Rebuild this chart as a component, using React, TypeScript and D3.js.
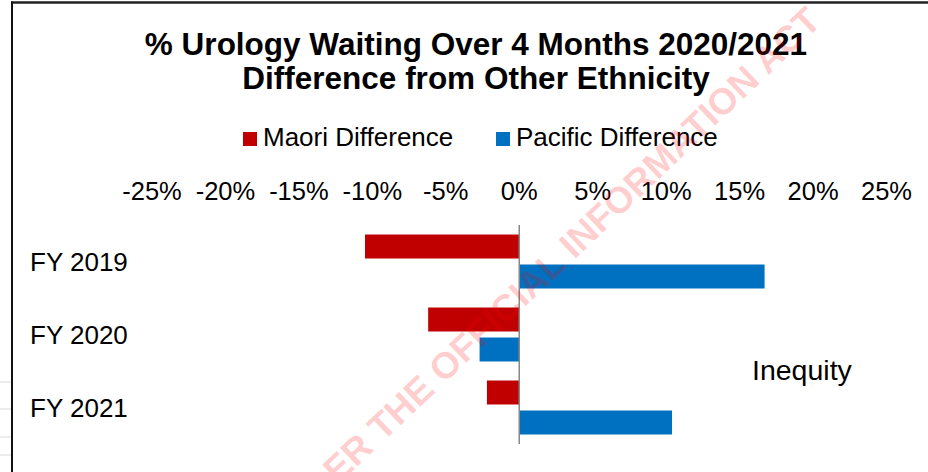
import React from "react";
import * as d3 from "d3";

const categories = ["FY 2019", "FY 2020", "FY 2021"];
const seriesNames = ["Maori Difference", "Pacific Difference"];
const maoriValues = [-0.105, -0.062, -0.022];
const pacificValues = [0.167, -0.027, 0.104];
const seriesColors = ["#C00000", "#0070C0"];
const tickValues = [-0.25, -0.2, -0.15, -0.1, -0.05, 0, 0.05, 0.1, 0.15, 0.2, 0.25];
const titleLines = ["% Urology Waiting Over 4 Months 2020/2021", "Difference from Other Ethnicity"];
const annotation = "Inequity";
const watermarkHead = "RELEASED UND";
const watermarkTail = "ER THE OFFICIAL INFORMATION ACT";

const W = 928;
const H = 472;
const FONT = "'Liberation Sans', Arial, sans-serif";

export default function App() {
  const x = d3.scaleLinear().domain([-0.25, 0.25]).range([152, 886.5]);
  const y = d3.scaleBand<string>().domain(categories).range([225, 444]).paddingInner(0).paddingOuter(0);
  const sub = d3
    .scaleBand<string>()
    .domain(seriesNames)
    .range([0, y.step()])
    .paddingInner(0.2)
    .paddingOuter(0.317);
  const seriesValues = [maoriValues, pacificValues];
  const fmt = (v: number) => `${Math.round(v * 100)}%`;

  // watermark geometry
  const ang = -43.6;
  const wmFont = 37;
  const wx = 338;
  const wy = 485;

  return (
    <svg
      width={W}
      height={H}
      viewBox={`0 0 ${W} ${H}`}
      style={{ position: "absolute", left: 0, top: 0, background: "#fff" }}
      fontFamily={FONT}
    >
      <rect x={0} y={0} width={W} height={H} fill="#fff" />
      {/* spreadsheet gridlines outside chart */}
      {[382, 409, 437, 455].map((gy) => (
        <line key={gy} x1={0} x2={12} y1={gy} y2={gy} stroke="#d9d9d9" strokeWidth={1} />
      ))}
      {/* chart border */}
      <line x1={11} x2={W} y1={2.5} y2={2.5} stroke="#222" strokeWidth={2.5} />
      <line x1={12} x2={12} y1={1.5} y2={H} stroke="#111" strokeWidth={2} />

      {/* title */}
      {titleLines.map((t, i) => (
        <text
          key={t}
          x={476}
          y={55 + i * 34}
          textAnchor="middle"
          fontWeight="bold"
          fontSize={31.5}
          fill="#000"
        >
          {t}
        </text>
      ))}

      {/* legend */}
      {seriesNames.map((s, i) => {
        const lx = i === 0 ? 243 : 496;
        return (
          <g key={s}>
            <rect x={lx} y={132} width={14} height={14} fill={seriesColors[i]} />
            <text x={lx + 20} y={146} fontSize={26} fill="#000">
              {s}
            </text>
          </g>
        );
      })}

      {/* tick labels */}
      {tickValues.map((v) => (
        <text key={v} x={x(v)} y={200} textAnchor="middle" fontSize={25.5} fill="#000">
          {fmt(v)}
        </text>
      ))}

      {/* category labels */}
      {categories.map((c) => (
        <text key={c} x={30} y={(y(c) as number) + y.step() / 2 + 9} fontSize={26} fill="#000">
          {c}
        </text>
      ))}

      {/* bars */}
      {categories.map((c, ci) =>
        seriesNames.map((s, si) => {
          const v = seriesValues[si][ci];
          const x0 = Math.min(x(0), x(v));
          const w = Math.abs(x(v) - x(0));
          return (
            <rect
              key={c + s}
              x={x0}
              y={(y(c) as number) + (sub(s) as number)}
              width={w}
              height={sub.bandwidth()}
              fill={seriesColors[si]}
            />
          );
        })
      )}

      {/* zero line */}
      <line x1={x(0)} x2={x(0)} y1={225} y2={444} stroke="#888" strokeWidth={1.5} />

      {/* annotation */}
      <text x={752} y={380} fontSize={28.5} fill="#000">
        {annotation}
      </text>

      {/* watermark */}
      <g transform={`translate(${wx} ${wy}) rotate(${ang})`}>
        <text x={0} y={0} textAnchor="end" fontSize={wmFont} fontWeight="bold" fill="#ff0000" fillOpacity={0.2}>
          {watermarkHead}
        </text>
        <text x={0} y={0} textAnchor="start" fontSize={wmFont} fontWeight="bold" fill="#ff0000" fillOpacity={0.2}>
          {watermarkTail}
        </text>
      </g>
    </svg>
  );
}
